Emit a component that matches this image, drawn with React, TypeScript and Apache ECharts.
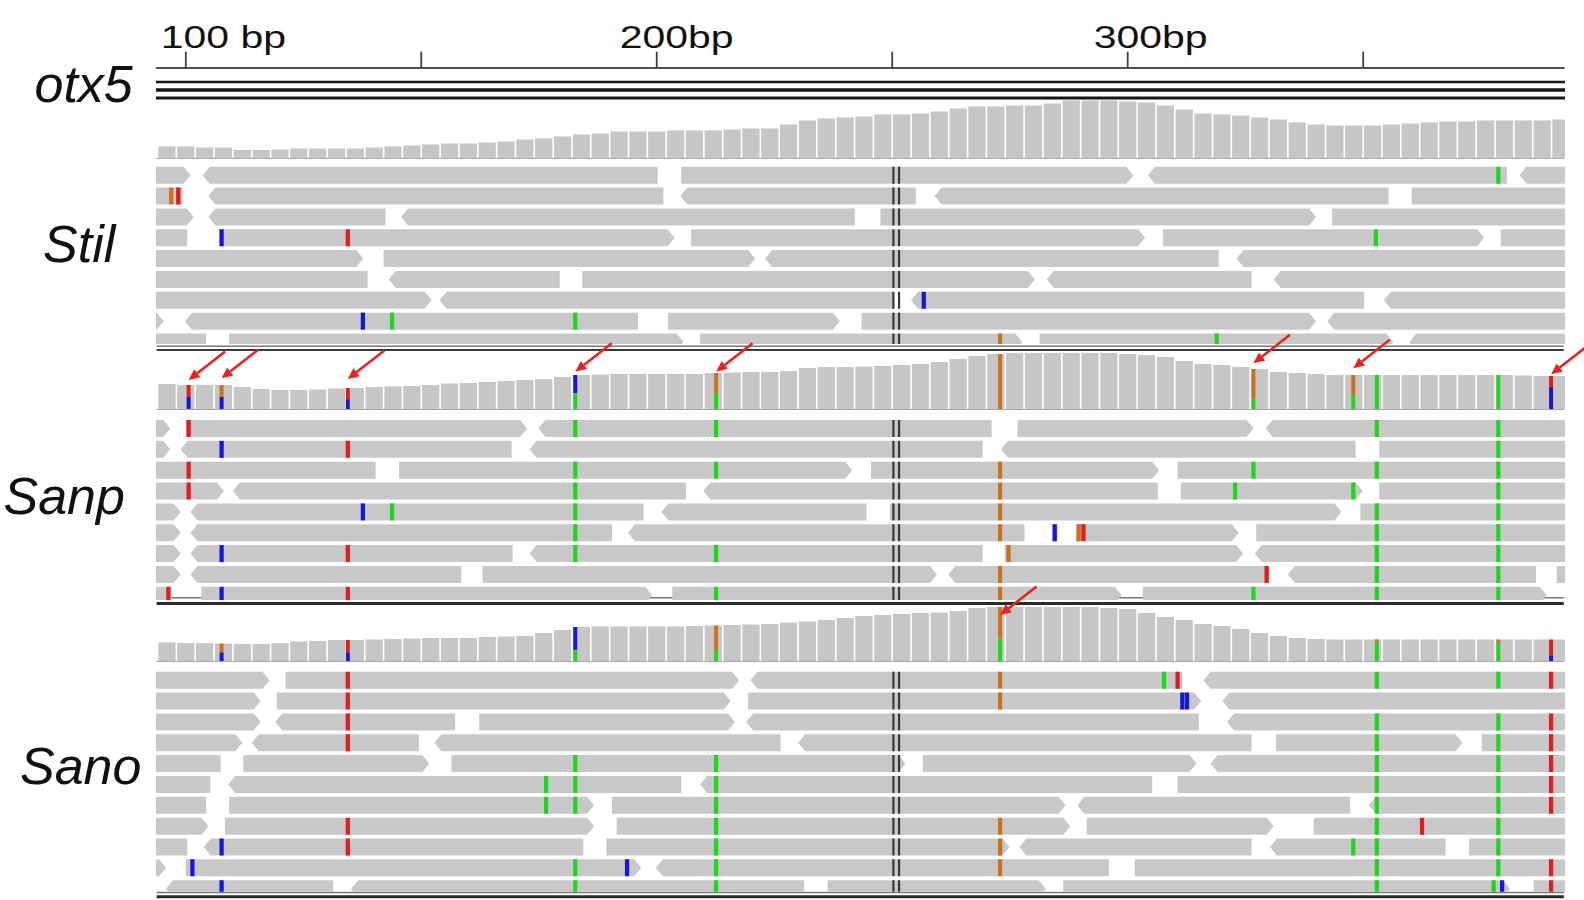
import React, { useEffect, useRef } from 'react';
import * as echarts from 'echarts';

// mismatch colour keys
const R = 0, B = 1, G = 2, O = 3;

const VIEW_START = 93.8;
const VIEW_END = 392.6;

const rulerTicks = [100, 150, 200, 250, 300, 350];
const rulerLabelValues = [100, 200, 300];
const rulerLabels = ['100 bp', '200bp', '300bp'];

const geneName = 'otx5';
const sampleNames = ['Stil', 'Sanp', 'Sano'];

// otx5 transcript lines: [start, end, row]
const otx5Transcripts = [[80, 400, 0], [80, 400, 1], [80, 400, 2]];

// IGV centre line (bp)
const centerLines = [250.25, 251.45];

// coverage, 4-bp bins starting at 94 bp
const COV_BIN_START = 94;
const COV_BIN_WIDTH = 4;
const stilCoverage = [
  12, 12, 11, 11, 8.5, 8.5, 9, 10, 10, 10, 10, 11, 12, 13, 14, 15, 15, 16, 17, 19, 20, 22, 24, 25,
  27, 27, 27, 28, 28, 28, 29, 30, 30, 34, 38, 40, 41, 42, 44, 44, 45, 47, 50, 52, 52, 53, 53, 55,
  58, 58, 58, 57, 56, 53, 49, 45, 44, 43, 41, 39, 36, 34, 33, 33, 33, 34, 35, 36, 37, 37, 38, 38, 38, 38, 39,
];
const sanpCoverage = [
  25, 24, 24, 24, 22, 20, 19, 19, 19.5, 20.5, 21, 22, 22.5, 23, 24, 25.5, 26, 27, 28, 29, 30, 32, 34, 34.5,
  35, 35, 35, 35, 35, 36, 36.5, 37, 37, 38, 41, 42, 42, 42.5, 43, 44, 45, 47, 50, 53, 55, 56, 56, 56,
  56, 56, 56, 55, 54, 52, 48, 45, 44, 42, 40, 37, 36, 35, 34, 34, 34, 34, 34, 34, 34, 34, 34, 34, 33.5, 33, 33,
];
const sanoCoverage = [
  18.5, 18, 18, 17.5, 17, 17, 18, 19.5, 20, 21, 21, 21.5, 22, 22.5, 23, 23, 23, 24, 24.5, 25, 28, 31, 34, 34.5,
  34.5, 34.5, 34.5, 34.5, 35, 35.5, 36, 36.5, 37, 38.5, 39.5, 41, 43, 45, 46, 47, 48, 48.5, 50, 53, 54, 54, 54, 54,
  54, 54, 53, 52, 48, 44, 41, 37, 35, 32, 28, 25, 23, 22, 21.5, 21.5, 21.5, 21.5, 21.5, 21.5, 21.5, 21.5, 21.5, 21.5, 21.5, 21.5, 21.5,
];

// coloured coverage columns: [pos, bottomColour, bottomFraction, topColour]
const stilCoverageMismatch: number[][] = [];
const sanpCoverageMismatch = [
  [100.6, B, 0.5, R], [107.6, B, 0.5, O], [134.4, B, 0.47, R], [182.7, G, 0.47, B], [212.6, G, 0.44, O],
  [272.9, O, 1, O], [326.7, G, 0.27, O], [347.9, G, 0.41, O], [352.9, G, 1, G], [378.7, G, 1, G], [389.9, B, 0.67, R],
];
const sanoCoverageMismatch = [
  [107.6, B, 0.5, O], [134.4, B, 0.42, R], [182.7, G, 0.33, B], [212.6, G, 0.31, O], [272.9, G, 0.42, O],
  [352.9, G, 0.9, O], [378.7, G, 0.85, O], [389.9, B, 0.27, R],
];

// red annotation arrows: [pos, tip height in coverage units]
const stilArrows: number[][] = [];
const sanpArrows = [[100.6, 29], [107.6, 30.7], [134.4, 30], [182.7, 37.3], [212.6, 37.3], [326.7, 45.7], [347.9, 40.7], [389.9, 34.7]];
const sanoArrows = [[272.9, 46]];

// reads: [row, start, end, strand]  (+1 points right, -1 points left, 0 blunt)
const stilReads = [
  [0, 88, 101, 1], [0, 103.6, 200.2, -1], [0, 205.2, 301.2, 1], [0, 304.3, 380.5, -1], [0, 383.2, 400, -1],
  [1, 88, 99.3, -1], [1, 104.8, 201.4, -1], [1, 205, 255, -1], [1, 259, 355.4, -1], [1, 360.3, 400, 1],
  [2, 88, 101.7, 1], [2, 104.8, 142.4, -1], [2, 145.7, 242.05, -1], [2, 247.5, 340, 1], [2, 343.4, 400, 1],
  [3, 88, 100.3, -1], [3, 107.1, 203.8, 1], [3, 207.3, 303.7, 1], [3, 307.5, 375.7, 1], [3, 379.2, 400, 1],
  [4, 88, 137.7, 1], [4, 142, 220.9, 1], [4, 223, 319.3, -1], [4, 323.1, 400, -1],
  [5, 88, 138.6, -1], [5, 143.1, 179.4, -1], [5, 184.2, 280.3, 1], [5, 282.8, 326.3, -1], [5, 331, 400, -1],
  [6, 88, 152.2, 1], [6, 153.9, 250.3, -1], [6, 254, 350.2, -1], [6, 354.4, 400, -1],
  [7, 88, 95.3, 1], [7, 99.8, 196, -1], [7, 202.4, 238.9, 1], [7, 243.5, 340, 1], [7, 342.4, 400, -1],
  [8, 88, 104.3, -1], [8, 109.2, 205.7, 1], [8, 209.2, 277.6, 1], [8, 281.3, 356.4, 1], [8, 359.8, 400, -1],
];
const sanpReads = [
  [0, 88, 96.7, 1], [0, 100, 172.5, 1], [0, 174.9, 271.1, -1], [0, 276.6, 326.7, 1], [0, 329.3, 400, -1],
  [1, 88, 96.7, 1], [1, 98.9, 169.2, -1], [1, 173, 269.2, -1], [1, 273.1, 348.4, -1], [1, 353.4, 400, 1],
  [2, 88, 140.3, -1], [2, 145.3, 241.5, 1], [2, 245.5, 306.7, 1], [2, 310.6, 400, 1],
  [3, 88, 108.1, 1], [3, 110, 206.2, -1], [3, 209.9, 306.4, -1], [3, 311.3, 349.9, 1], [3, 353.4, 400, 1],
  [4, 88, 98.9, 1], [4, 101, 197.2, -1], [4, 201, 244.5, -1], [4, 249.5, 345.4, 1], [4, 349.4, 400, 1],
  [5, 88, 98.9, 1], [5, 101, 190.5, -1], [5, 193.9, 278.1, -1], [5, 284.0, 285.1, 0], [5, 289.0, 323.6, 1], [5, 327.3, 400, 1],
  [6, 88, 98.9, 1], [6, 101, 169.4, -1], [6, 173, 269.2, -1], [6, 273.9, 324.5, 1], [6, 327, 400, -1],
  [7, 88, 98.9, 1], [7, 101, 158.5, -1], [7, 163, 259.5, 1], [7, 261.9, 330, -1], [7, 334, 386.7, -1], [7, 391.1, 400, 1],
  [8, 88, 97, -1], [8, 103.3, 199, 1], [8, 203.3, 298.7, 1], [8, 303.2, 389, 1],
];
const sanoReads = [
  [0, 88, 117.8, 1], [0, 121.2, 217.5, 1], [0, 219.9, 311.6, -1], [0, 316.1, 400, -1],
  [1, 88, 115.9, 1], [1, 119.3, 215.7, 1], [1, 219.4, 315.6, 1], [1, 320.1, 400, -1],
  [2, 88, 115.9, 1], [2, 119, 157.2, -1], [2, 162.3, 216.6, 1], [2, 219, 315.1, -1], [2, 321.1, 400, -1],
  [3, 88, 112, 1], [3, 114, 149.5, -1], [3, 152.8, 226.3, -1], [3, 230, 326.3, -1], [3, 331.5, 371.1, 1], [3, 375.2, 400, 1],
  [4, 88, 107.4, -1], [4, 112.2, 151.7, 1], [4, 156.4, 252.8, 1], [4, 256.5, 314.6, 1], [4, 317.6, 400, -1],
  [5, 88, 105.2, -1], [5, 109, 205.2, -1], [5, 209.2, 305.2, -1], [5, 310.6, 400, 1],
  [6, 88, 104.3, -1], [6, 109.2, 186.7, 1], [6, 190.5, 286.8, 1], [6, 289.3, 347.2, -1], [6, 351.2, 400, -1],
  [7, 88, 104.8, 1], [7, 108.3, 186.7, 1], [7, 191.5, 287.8, 1], [7, 291.3, 331, 1], [7, 339.5, 400, 1],
  [8, 88, 100.3, -1], [8, 103.8, 184.4, -1], [8, 189.3, 274.9, 1], [8, 277, 326.3, -1], [8, 330.2, 367.5, -1], [8, 372.5, 400, 1],
  [9, 88, 95.8, 1], [9, 100, 196.7, 1], [9, 199.8, 296, -1], [9, 301.5, 400, 1],
  [10, 95.8, 131.3, -1], [10, 135.1, 231.3, -1], [10, 236.3, 282.6, 1], [10, 286.3, 381.2, 1], [10, 386.2, 400, 1],
];

// mismatched bases in reads: [pos, colour, rows]
const stilMismatches: any[] = [
  [96.9, O, [1]], [98.4, R, [1]], [107.6, B, [3]], [134.4, R, [3]], [137.6, B, [7]], [143.8, G, [7]],
  [182.7, G, [7]], [256.7, B, [6]], [272.9, O, [8]], [318.9, G, [8]], [352.7, G, [3]], [378.7, G, [0]],
];
const sanpMismatches: any[] = [
  [96.3, R, [8]], [100.6, R, [0, 2, 3]], [107.6, B, [1, 6, 8]], [134.4, R, [1, 6, 8]], [137.6, B, [4]], [143.8, G, [4]],
  [182.7, G, [0, 2, 3, 4, 5, 6]], [212.6, G, [0, 2, 6, 8]], [272.9, O, [2, 3, 4, 5, 7, 8]], [274.7, O, [6]],
  [284.5, B, [5]], [289.6, O, [5]], [290.6, R, [5]], [322.8, G, [3]], [326.7, G, [2, 8]], [329.5, R, [7]],
  [347.9, G, [3]], [352.9, G, [0, 2, 4, 5, 6, 7, 8]], [378.7, G, [0, 1, 2, 3, 4, 5, 6, 7, 8]],
];
const sanoMismatches: any[] = [
  [101.4, B, [9]], [107.6, B, [8, 10]], [134.4, R, [0, 1, 2, 3, 7, 8]], [176.5, G, [5, 6]], [182.7, G, [4, 5, 6, 9, 10]],
  [193.7, B, [9]], [212.6, G, [4, 5, 6, 7, 8, 9, 10]], [272.9, O, [0, 1, 7, 8, 9]], [307.7, G, [0]], [310.6, R, [0]],
  [311.6, B, [1]], [312.6, B, [1]], [347.9, G, [8]], [352.9, G, [0, 2, 3, 4, 5, 6, 7, 8, 9, 10]], [362.5, R, [7]],
  [377.7, G, [10]], [378.7, G, [0, 2, 3, 4, 5, 6, 7, 8, 9]], [379.5, B, [10]], [389.9, R, [0, 2, 3, 4, 5, 6, 9, 10]],
];

// ---------- styles / layout ----------
const MM_COLORS = ['#e21c1c', '#1515dc', '#1fd61f', '#c8731c'];
const READ_COLOR = '#c8c8c8';
const COV_COLOR = '#c6c6c6';
const ARROW_COLOR = '#e8231f';
const LABEL_FONT = "'Liberation Sans', Arial, sans-serif";
const TRACK_LEFT = 156.6;
const TRACK_RIGHT = 1563.8;
const TRACK_W = TRACK_RIGHT - TRACK_LEFT;
const ROW_PITCH = 20.85;
const READ_TOP = 0.1;
const READ_BOT = 0.915;
const POINT_PX = 7;

const grids = [
  { top: 40, height: 27.7 }, // ruler
  { top: 78, height: 24 }, // gene
  { top: 98.5, height: 60 }, // Stil coverage
  { top: 164.6, height: 179.4 }, // Stil reads
  { top: 349, height: 60 }, // Sanp coverage
  { top: 417.9, height: 182.1 }, // Sanp reads
  { top: 601, height: 60 }, // Sano coverage
  { top: 669.6, height: 222.1 }, // Sano reads
];

function expandMismatches(cols: any[]) {
  const out: number[][] = [];
  cols.forEach((c) => c[2].forEach((r: number) => out.push([r, c[0], c[1]])));
  return out;
}

function coverageSeries(values: number[], marks: number[][], arrows: number[][], idx: number) {
  const bins = values.map((v, i) => [COV_BIN_START + i * COV_BIN_WIDTH, v]);
  const valueAt = (pos: number) => values[Math.min(values.length - 1, Math.max(0, Math.floor((pos - COV_BIN_START) / COV_BIN_WIDTH)))];
  return [
    {
      type: 'custom', xAxisIndex: idx, yAxisIndex: idx, clip: true, silent: true, data: bins,
      encode: { x: 0, y: 1 },
      renderItem: (params: any, api: any) => {
        const d = bins[params.dataIndex];
        const p0 = api.coord([d[0], d[1]]);
        const p1 = api.coord([d[0] + COV_BIN_WIDTH, 0]);
        return { type: 'rect', shape: { x: p0[0] + 0.8, y: p0[1], width: p1[0] - p0[0] - 1.6, height: p1[1] - p0[1] }, style: { fill: COV_COLOR } };
      },
    },
    {
      type: 'custom', xAxisIndex: idx, yAxisIndex: idx, clip: true, silent: true, data: marks,
      encode: { x: 0 },
      renderItem: (params: any, api: any) => {
        const m = marks[params.dataIndex];
        const h = valueAt(m[0]);
        const split = h * m[2];
        const a = api.coord([m[0] - 0.42, 0]);
        const b = api.coord([m[0] + 0.42, split]);
        const c = api.coord([m[0] + 0.42, h]);
        return {
          type: 'group', children: [
            { type: 'rect', shape: { x: a[0], y: b[1], width: b[0] - a[0], height: a[1] - b[1] }, style: { fill: MM_COLORS[m[1]] } },
            { type: 'rect', shape: { x: a[0], y: c[1], width: b[0] - a[0], height: b[1] - c[1] }, style: { fill: MM_COLORS[m[3]] } },
          ],
        };
      },
    },
    {
      type: 'custom', xAxisIndex: idx, yAxisIndex: idx, clip: false, silent: true, data: arrows, z: 5,
      encode: { x: 0, y: 1 },
      renderItem: (params: any, api: any) => {
        const a = arrows[params.dataIndex];
        const tip = api.coord([a[0], a[1]]);
        const dx = 36.5, dy = -28.5;
        const len = Math.hypot(dx, dy);
        const ux = dx / len, uy = dy / len;
        const hl = 11, hw = 5;
        const hb = [tip[0] + ux * hl, tip[1] + uy * hl];
        const px = -uy, py = ux;
        return {
          type: 'group', children: [
            { type: 'line', shape: { x1: hb[0], y1: hb[1], x2: tip[0] + dx, y2: tip[1] + dy }, style: { stroke: ARROW_COLOR, lineWidth: 2.6 } },
            { type: 'polygon', shape: { points: [tip, [hb[0] + px * hw, hb[1] + py * hw], [hb[0] - px * hw, hb[1] - py * hw]] }, style: { fill: ARROW_COLOR } },
          ],
        };
      },
    },
  ];
}

function readsSeries(reads: number[][], mmCols: any[], idx: number, nRows: number) {
  const mm = expandMismatches(mmCols);
  return [
    {
      type: 'custom', xAxisIndex: idx, yAxisIndex: idx, clip: true, silent: true, data: reads,
      encode: { x: [1, 2], y: 0 },
      renderItem: (params: any, api: any) => {
        const d = reads[params.dataIndex];
        const p0 = api.coord([d[1], d[0] + READ_TOP]);
        const p1 = api.coord([d[2], d[0] + READ_BOT]);
        const x0 = p0[0], x1 = p1[0], y0 = p0[1], y1 = p1[1];
        const ym = (y0 + y1) / 2;
        const a = Math.min(POINT_PX, (x1 - x0) / 2);
        let pts;
        if (d[3] > 0) pts = [[x0, y0], [x1 - a, y0], [x1, ym], [x1 - a, y1], [x0, y1]];
        else if (d[3] < 0) pts = [[x0, ym], [x0 + a, y0], [x1, y0], [x1, y1], [x0 + a, y1]];
        else pts = [[x0, y0], [x1, y0], [x1, y1], [x0, y1]];
        return { type: 'polygon', shape: { points: pts }, style: { fill: READ_COLOR } };
      },
    },
    {
      type: 'custom', xAxisIndex: idx, yAxisIndex: idx, clip: true, silent: true, data: mm,
      encode: { x: 1, y: 0 },
      renderItem: (params: any, api: any) => {
        const d = mm[params.dataIndex];
        const p0 = api.coord([d[1] - 0.45, d[0] + READ_TOP]);
        const p1 = api.coord([d[1] + 0.45, d[0] + READ_BOT]);
        return { type: 'rect', shape: { x: p0[0], y: p0[1], width: p1[0] - p0[0], height: p1[1] - p0[1] }, style: { fill: MM_COLORS[d[2]] } };
      },
    },
    {
      type: 'custom', xAxisIndex: idx, yAxisIndex: idx, clip: true, silent: true, data: centerLines, z: 4,
      encode: { x: 0 },
      renderItem: (params: any, api: any) => {
        const v = centerLines[params.dataIndex];
        const children: any[] = [];
        for (let r = 0; r < nRows; r++) {
          const top = api.coord([v, r + READ_TOP]);
          const bot = api.coord([v, r + READ_BOT]);
          children.push({ type: 'line', shape: { x1: top[0], y1: top[1], x2: bot[0], y2: bot[1] }, style: { stroke: '#383838', lineWidth: 2.2 } });
        }
        return { type: 'group', children };
      },
    },
  ];
}

function hLine(y: number, w: number, color: string) {
  return { type: 'line', silent: true, shape: { x1: TRACK_LEFT, y1: y, x2: TRACK_RIGHT, y2: y }, style: { stroke: color, lineWidth: w } };
}

export default function App() {
  const ref = useRef<HTMLDivElement>(null);
  useEffect(() => {
    if (!ref.current) return;
    const chart = echarts.init(ref.current, undefined, { renderer: 'svg' });
    const rowsMax = (h: number) => h / ROW_PITCH;
    const xAxes = grids.map((g, i) => {
      const isRuler = i === 0;
      const isCov = i === 2 || i === 4 || i === 6;
      return {
        type: 'value', gridIndex: i, min: VIEW_START, max: VIEW_END, show: isRuler || isCov,
        axisLine: { show: isRuler || isCov, onZero: false, lineStyle: { color: isRuler ? '#505050' : '#a8a8a8', width: isRuler ? 2 : 1.2 } },
        axisTick: { show: false }, axisLabel: { show: false }, splitLine: { show: false },
      };
    });
    const yAxes = grids.map((g, i) => {
      if (i === 0) return { type: 'value', gridIndex: i, min: 0, max: 1, show: false };
      if (i === 1) return { type: 'value', gridIndex: i, min: 0, max: 3, inverse: true, show: false };
      if (i === 2 || i === 4 || i === 6) return { type: 'value', gridIndex: i, min: 0, max: 60, show: false };
      return { type: 'value', gridIndex: i, min: 0, max: rowsMax(g.height), inverse: true, show: false };
    });
    const nRows = (i: number) => Math.ceil(rowsMax(grids[i].height));
    const geneWidths = [2.4, 3.6, 3.0];
    const labelDx = [-25, -37, -34];
    const series: any[] = [
      {
        type: 'custom', xAxisIndex: 0, yAxisIndex: 0, clip: false, silent: true, data: rulerTicks, encode: { x: 0 },
        renderItem: (params: any, api: any) => {
          const p = api.coord([rulerTicks[params.dataIndex], 0]);
          return { type: 'line', shape: { x1: p[0], y1: p[1], x2: p[0], y2: p[1] - 16 }, style: { stroke: '#404040', lineWidth: 1.8 } };
        },
      },
      {
        type: 'custom', xAxisIndex: 0, yAxisIndex: 0, clip: false, silent: true, data: rulerLabelValues, encode: { x: 0 },
        renderItem: (params: any, api: any) => {
          const i = params.dataIndex;
          const p = api.coord([rulerLabelValues[i], 0]);
          return {
            type: 'text', x: p[0] + labelDx[i], y: p[1] - 30.5, scaleX: 1.28,
            style: { text: rulerLabels[i], fontSize: 32, fontFamily: LABEL_FONT, fill: '#111', align: 'left', verticalAlign: 'middle' },
          };
        },
      },
      {
        type: 'custom', xAxisIndex: 1, yAxisIndex: 1, clip: true, silent: true, data: otx5Transcripts, encode: { x: [0, 1] },
        renderItem: (params: any, api: any) => {
          const t = otx5Transcripts[params.dataIndex];
          const a = api.coord([t[0], t[2] + 0.5]);
          const b = api.coord([t[1], t[2] + 0.5]);
          return { type: 'line', shape: { x1: a[0], y1: a[1], x2: b[0], y2: b[1] }, style: { stroke: '#161616', lineWidth: geneWidths[t[2]] } };
        },
      },
      ...coverageSeries(stilCoverage, stilCoverageMismatch, stilArrows, 2),
      ...readsSeries(stilReads, stilMismatches, 3, nRows(3)),
      ...coverageSeries(sanpCoverage, sanpCoverageMismatch, sanpArrows, 4),
      ...readsSeries(sanpReads, sanpMismatches, 5, nRows(5)),
      ...coverageSeries(sanoCoverage, sanoCoverageMismatch, sanoArrows, 6),
      ...readsSeries(sanoReads, sanoMismatches, 7, nRows(7)),
    ];
    const nameStyle = (text: string, x: number, y: number) => ({
      type: 'text', x, y, silent: true,
      style: { text, fontSize: 52, fontStyle: 'italic', fontFamily: LABEL_FONT, fill: '#111', align: 'left', verticalAlign: 'middle' },
    });
    chart.setOption({
      animation: false,
      backgroundColor: '#ffffff',
      grid: grids.map((g) => ({ left: TRACK_LEFT, width: TRACK_W, top: g.top, height: g.height, containLabel: false })),
      xAxis: xAxes,
      yAxis: yAxes,
      series,
      graphic: [
        nameStyle(geneName, 34.5, 84),
        nameStyle(sampleNames[0], 43, 244.4),
        nameStyle(sampleNames[1], 3.5, 495.6),
        nameStyle(sampleNames[2], 20, 766),
        hLine(346.3, 1.5, '#777'),
        hLine(350, 2.2, '#3a3a3a'),
        hLine(597.7, 1.5, '#777'),
        hLine(603.6, 3, '#2a2a2a'),
        hLine(892.6, 1.5, '#777'),
        hLine(896.8, 3, '#2a2a2a'),
      ],
    });
    return () => chart.dispose();
  }, []);
  return (
    <div
      ref={ref}
      style={{ position: 'fixed', left: 0, top: 0, width: '1584px', height: '900px', background: '#fff' }}
    />
  );
}
